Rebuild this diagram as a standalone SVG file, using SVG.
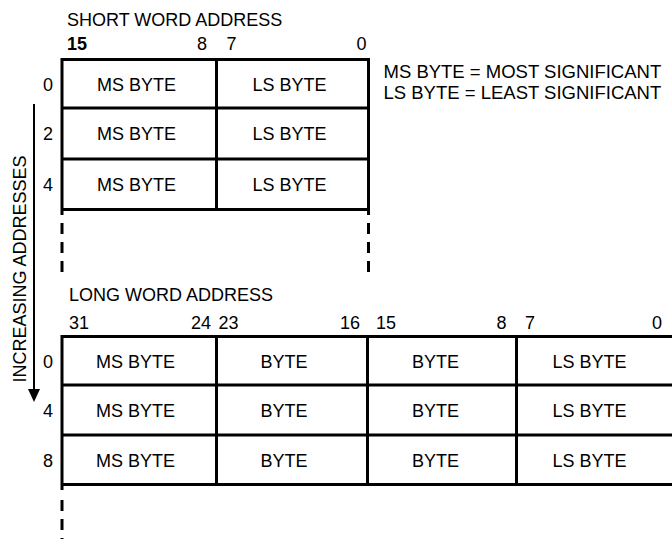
<svg xmlns="http://www.w3.org/2000/svg" width="672" height="539" viewBox="0 0 672 539">
  <style>
    text { font-family: "Liberation Sans", Arial, sans-serif; font-size: 18px; fill: #000; }
    .c { text-anchor: middle; }
    .r { text-anchor: end; }
    .b { font-weight: bold; }
    .key { font-size: 18.5px; }
    .grid { stroke: #000; stroke-width: 3; fill: none; stroke-linecap: butt; }
    .dash { stroke: #000; stroke-width: 3; fill: none; stroke-dasharray: 11 8; }
  </style>
  <rect width="672" height="539" fill="#fff"/>

  <!-- direction arrow -->
  <g id="direction">
    <line x1="34" y1="104" x2="34" y2="390" stroke="#000" stroke-width="2"/>
    <polygon points="28,389 40,389 34,402" fill="#000"/>
    <text x="26" y="269" class="c" transform="rotate(-90 26 269)">INCREASING ADDRESSES</text>
  </g>

  <!-- short word layout -->
  <g id="short-word">
    <text x="67" y="25.5">SHORT WORD ADDRESS</text>
    <text x="67" y="50" class="b">15</text>
    <text x="207" y="50" class="r">8</text>
    <text x="226.5" y="50">7</text>
    <text x="366.5" y="50" class="r">0</text>
    <path class="grid" d="M62,59.5 H370 M62,108 H370 M62,159 H370 M62,209.5 H370 M62,58 V215 M216.5,58 V211 M368.5,58 V215"/>
    <path class="dash" d="M62,223 V272 M368.5,223 V272"/>
    <text x="53" y="91" class="r">0</text>
    <text x="53" y="140" class="r">2</text>
    <text x="53" y="191" class="r">4</text>
    <g id="s0"><text x="136.5" y="91" class="c">MS BYTE</text><text x="289.5" y="91" class="c">LS BYTE</text></g>
    <g id="s2"><text x="136.5" y="140" class="c">MS BYTE</text><text x="289.5" y="140" class="c">LS BYTE</text></g>
    <g id="s4"><text x="136.5" y="191" class="c">MS BYTE</text><text x="289.5" y="191" class="c">LS BYTE</text></g>
  </g>

  <!-- legend -->
  <g id="legend">
    <text x="383.5" y="78" class="key">MS BYTE = MOST SIGNIFICANT</text>
    <text x="383.5" y="98.5" class="key">LS BYTE = LEAST SIGNIFICANT</text>
  </g>

  <!-- long word layout -->
  <g id="long-word">
    <text x="69" y="300.5">LONG WORD ADDRESS</text>
    <text x="69" y="329">31</text>
    <text x="211" y="329" class="r">24</text>
    <text x="218.5" y="329">23</text>
    <text x="360" y="329" class="r">16</text>
    <text x="376" y="329">15</text>
    <text x="506.5" y="329" class="r">8</text>
    <text x="525" y="329">7</text>
    <text x="662" y="329" class="r">0</text>
    <path class="grid" d="M62,336.5 H672 M62,385 H672 M62,435 H672 M62,484.5 H672 M62,335 V490 M216.5,335 V486 M367.5,335 V486 M516.5,335 V486"/>
    <path class="dash" d="M62,500 V539"/>
    <text x="53" y="368" class="r">0</text>
    <text x="53" y="417" class="r">4</text>
    <text x="53" y="467" class="r">8</text>
    <g id="l0"><text x="135.5" y="368" class="c">MS BYTE</text><text x="284" y="368" class="c">BYTE</text><text x="435.5" y="368" class="c">BYTE</text><text x="589.5" y="368" class="c">LS BYTE</text></g>
    <g id="l4"><text x="135.5" y="417" class="c">MS BYTE</text><text x="284" y="417" class="c">BYTE</text><text x="435.5" y="417" class="c">BYTE</text><text x="589.5" y="417" class="c">LS BYTE</text></g>
    <g id="l8"><text x="135.5" y="467" class="c">MS BYTE</text><text x="284" y="467" class="c">BYTE</text><text x="435.5" y="467" class="c">BYTE</text><text x="589.5" y="467" class="c">LS BYTE</text></g>
  </g>
</svg>
